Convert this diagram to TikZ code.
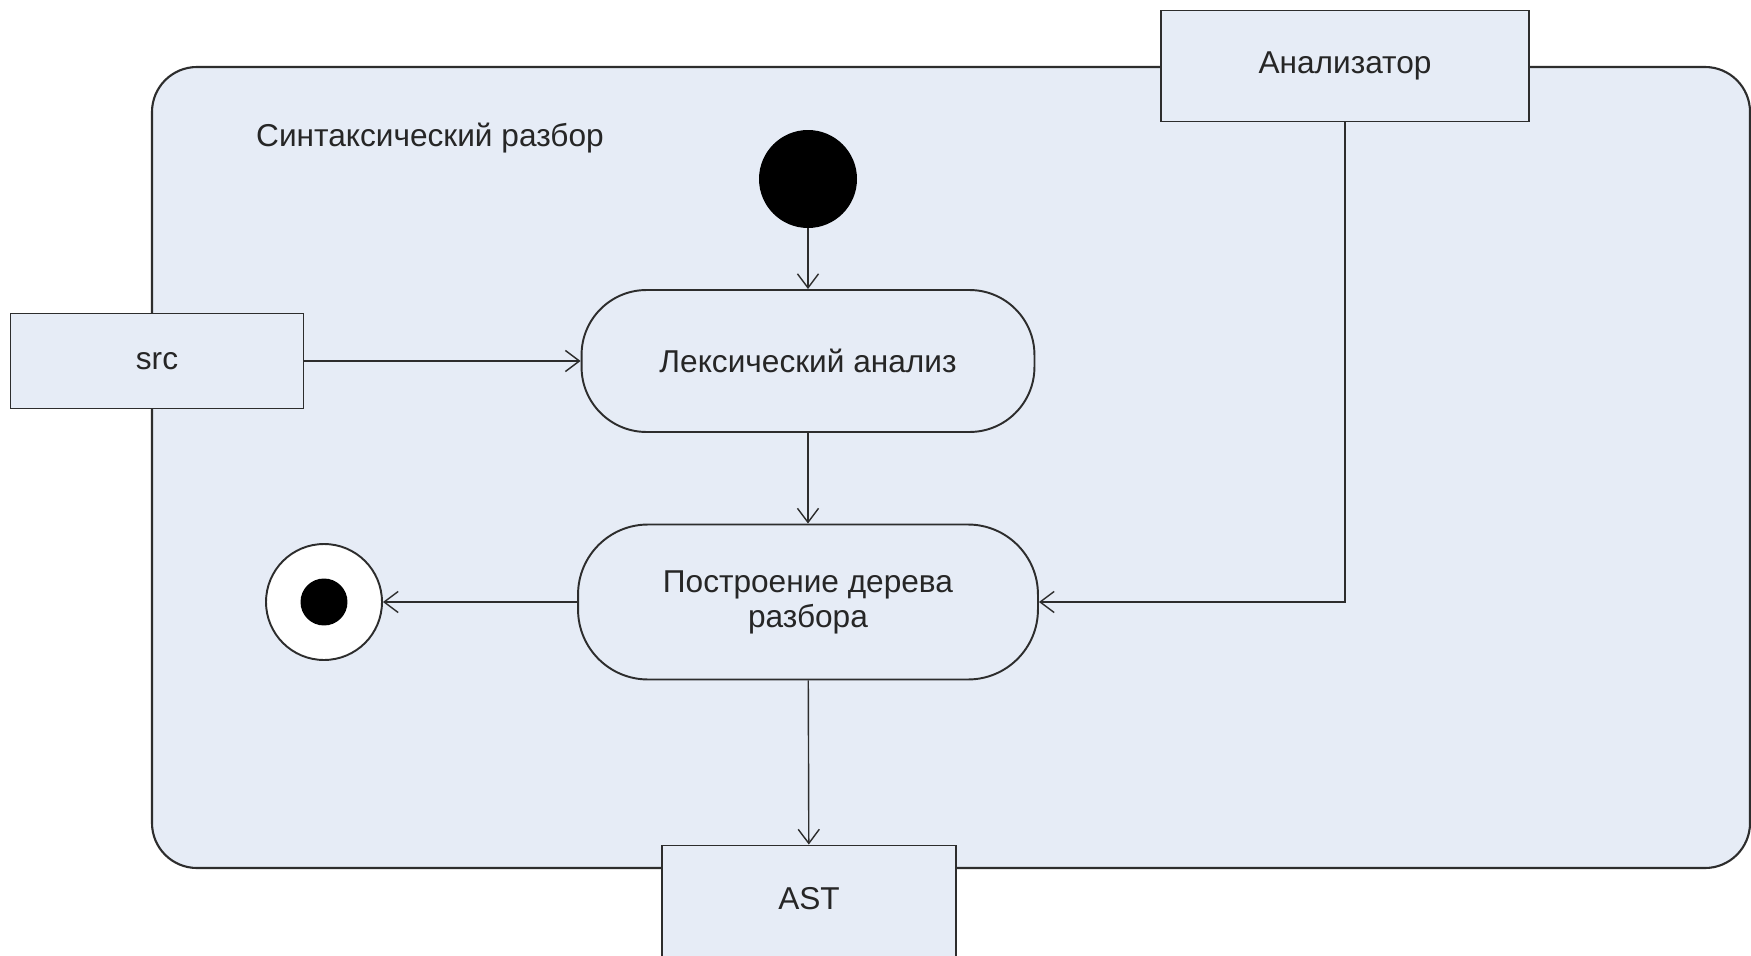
\documentclass[tikz,border=0pt]{standalone}
\usepackage{fontspec}
\setmainfont{Liberation Sans}
\usetikzlibrary{arrows.meta}

\definecolor{panefill}{RGB}{230,236,246}
\definecolor{linegray}{RGB}{45,45,45}

\begin{document}
\begin{tikzpicture}[x=0.02cm,y=-0.02cm]
\tikzstyle{every node}+=[font=\fontsize{18}{20}\selectfont, text=black!85]
\tikzstyle{objbox}=[draw=linegray, fill=panefill, line width=1.1pt]
\tikzstyle{actbox}=[draw=linegray, fill=panefill, line width=1.1pt, rounded corners=1.3cm, align=center]
\tikzstyle{flow}=[draw=linegray, line width=0.8pt, -{Straight Barb[length=8pt,width=12pt]}]
\useasboundingbox (0,0) rectangle (1751,956);
\fill [white] (0,0) rectangle (1751,956);
\clip (0,0) rectangle (1751,956);
% frame
\draw [linegray, fill=panefill, line width=1.2pt, rounded corners=0.9cm] (152,67) rectangle (1750,868);
\node [anchor=west] (title) at (250,138) {Синтаксический разбор};
% objects
\node [objbox, minimum width=7.36cm, minimum height=2.22cm] (anal) at (1345,66) {Анализатор};
\node [objbox, minimum width=5.86cm, minimum height=1.9cm] (src) at (157,361) {src};
\node [objbox, minimum width=5.88cm, minimum height=2.3cm] (ast) at (809,903) {};
\node (astlabel) at (809,899) {AST};
% activities
\node [circle, fill=black, minimum size=1.96cm, inner sep=0pt] (init) at (808,179) {};
\node [actbox, minimum width=9.06cm, minimum height=2.84cm] (lex) at (808,361) {Лексический анализ};
\node [actbox, minimum width=9.2cm, minimum height=3.1cm, rounded corners=1.4cm] (build) at (808,602) {Построение дерева\\разбора};
\node [circle, draw=linegray, fill=white, line width=1.1pt, minimum size=2.32cm, inner sep=0pt] (final) at (324,602) {};
\node [circle, fill=black, minimum size=0.94cm, inner sep=0pt] (finaldot) at (final) {};
% flows
\draw [flow] (init) -- (lex);
\draw [flow] (src) -- (lex);
\draw [flow] (lex) -- (build);
\draw [flow] (anal.south) |- (build.east);
\draw [flow] (build) -- (final);
\draw [flow] (build) -- (ast);
\end{tikzpicture}
\end{document}
